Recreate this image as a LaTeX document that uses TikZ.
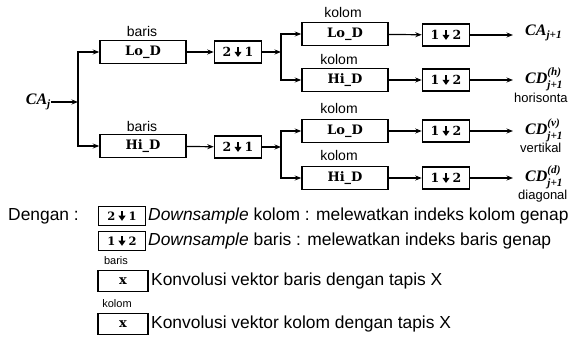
\documentclass[tikz,border=0pt]{standalone}
\usepackage{fontspec}
\usepackage{amsmath}
\setmainfont{Liberation Serif}
\setsansfont{Liberation Sans}
\newfontfamily\boxfont{DejaVu Serif}
\usetikzlibrary{arrows.meta}

% thick downward arrow used inside the sampling boxes
\newcommand\thickdown{\tikz[baseline=0pt]{\fill (-1pt,9pt) rectangle (1pt,4pt);
  \fill (-3.6pt,4.5pt) -- (3.6pt,4.5pt) -- (0pt,-0.6pt) -- cycle;}}
\newcommand\dsab[2]{#1\hspace{3pt}\thickdown\hspace{3pt}#2}
\newcommand\sig[1]{\text{\bfseries\itshape #1}}

\begin{document}
\begin{tikzpicture}[x=1pt,y=-1pt,
  filt/.style={draw,line width=1.5pt,minimum width=86pt,minimum height=23pt,inner sep=0pt,
    font=\boxfont\bfseries\fontsize{13}{14}\selectfont},
  samp/.style={draw,line width=1.5pt,minimum width=47pt,minimum height=22pt,inner sep=0pt,
    font=\boxfont\bfseries\fontsize{12.5}{14}\selectfont},
  lsamp/.style={samp,minimum width=47pt,minimum height=19pt,line width=1.3pt,
    font=\boxfont\bfseries\fontsize{11.5}{12}\selectfont},
  lfilt/.style={draw,line width=1.3pt,minimum width=50pt,minimum height=21pt,inner sep=0pt,
    font=\boxfont\bfseries\fontsize{13}{14}\selectfont},
  lbl/.style={font=\sffamily\fontsize{14}{16}\selectfont,inner sep=0pt},
  smalllbl/.style={font=\sffamily\fontsize{11}{12}\selectfont,inner sep=0pt},
  sublab/.style={font=\sffamily\fontsize{13}{15}\selectfont,inner sep=0pt,anchor=west},
  sigl/.style={font=\fontsize{16}{18}\selectfont,inner sep=0pt,anchor=west},
  legtxt/.style={font=\sffamily\fontsize{17.4}{19}\selectfont,inner sep=0pt,anchor=west},
  arr/.style={-{Stealth[length=6.5pt,width=5pt]},line width=1.2pt}]
\useasboundingbox (0,0) rectangle (576,342);

% input
\node[sigl,anchor=east] (ca) at (51,102) {$\sig{CA}_{\sig{j}}$};
\coordinate (j1) at (78,102);

% row filtering (baris)
\node[filt] (lod1) at (143,52) {Lo\_D};
\node[filt] (hid1) at (143,146) {Hi\_D};
\node[lbl] at (142,31) {baris};
\node[lbl] at (142,126) {baris};

\node[samp] (ds1) at (238,52) {\dsab{2}{1}};
\node[samp] (ds2) at (238,147) {\dsab{2}{1}};
\coordinate (j2) at (281,52);
\coordinate (j3) at (281,147);

% column filtering (kolom)
\node[filt] (k1) at (345,34) {Lo\_D};
\node[filt] (k2) at (345,80) {Hi\_D};
\node[filt] (k3) at (345,131) {Lo\_D};
\node[filt] (k4) at (345,178) {Hi\_D};
\node[lbl] at (343,12) {kolom};
\node[lbl] at (339,59) {kolom};
\node[lbl] at (339,108) {kolom};
\node[lbl] at (339,155) {kolom};

\node[samp] (u1) at (446,35) {\dsab{1}{2}};
\node[samp] (u2) at (446,80) {\dsab{1}{2}};
\node[samp] (u3) at (446,131) {\dsab{1}{2}};
\node[samp] (u4) at (446,178) {\dsab{1}{2}};
\coordinate (o1) at (513,35);
\coordinate (o2) at (513,80);
\coordinate (o3) at (513,131);
\coordinate (o4) at (513,178);

% outputs
\node[sigl] (y1) at (525,33) {$\sig{CA}_{\sig{j+1}}$};
\node[sigl] (y2) at (525,79) {$\sig{CD}^{\sig{(h)}}_{\sig{j+1}}$};
\node[sigl] (y3) at (525,130) {$\sig{CD}^{\sig{(v)}}_{\sig{j+1}}$};
\node[sigl] (y4) at (525,177) {$\sig{CD}^{\sig{(d)}}_{\sig{j+1}}$};
\node[sublab] at (514,98) {horisonta};
\node[sublab] at (520,148) {vertikal};
\node[sublab] at (518,196) {diagonal};

% connectors
\draw[arr] (ca) -- (j1);
\draw[arr] (j1) |- (lod1.west);
\draw[arr] (j1) |- (hid1.west);
\draw[arr] (lod1) -- (ds1);
\draw[arr] (hid1) -- (ds2);
\draw[arr] (ds1) -- (j2);
\draw[arr] (ds2) -- (j3);
\draw[arr] (j2) |- (k1.west);
\draw[arr] (j2) |- (k2.west);
\draw[arr] (j3) |- (k3.west);
\draw[arr] (j3) |- (k4.west);
\foreach \i in {1,2,3,4}{
  \draw[arr] (k\i) -- (u\i);
  \draw[arr] (u\i) -- (o\i);
}

% legend
\node[legtxt] (dg) at (8,216) {Dengan :};
\node[lsamp] (lb1) at (122,216) {\dsab{2}{1}};
\node[legtxt] at (148,216) {\textit{Downsample} kolom : melewatkan indeks kolom genap};
\node[lsamp] (lb2) at (122,241) {\dsab{1}{2}};
\node[legtxt] at (148,241) {\textit{Downsample} baris : melewatkan indeks baris genap};
\node[smalllbl] at (116,261) {baris};
\node[lfilt] (lb3) at (123,281) {x};
\node[legtxt] at (151,281) {Konvolusi vektor baris dengan tapis X};
\node[smalllbl] at (117,304) {kolom};
\node[lfilt] (lb4) at (123,324) {x};
\node[legtxt] at (151,324) {Konvolusi vektor kolom dengan tapis X};
\end{tikzpicture}
\end{document}
